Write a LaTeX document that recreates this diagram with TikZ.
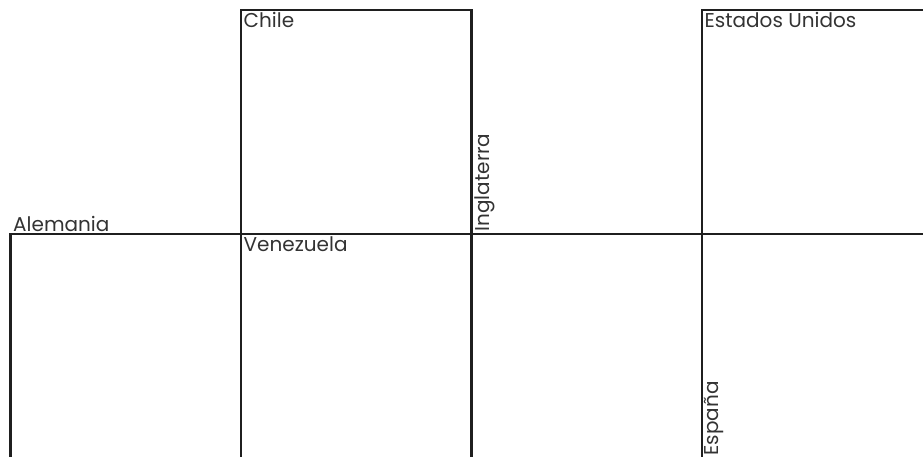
\documentclass[tikz,border=0pt]{standalone}
\usepackage{fontspec}
\setmainfont{Poppins}
\usetikzlibrary{positioning}

\begin{document}
\begin{tikzpicture}[x=1pt,y=-1pt,
    cell/.style={draw=black!88, line width=2.2pt, rectangle, inner sep=0pt, outer sep=0pt,
      minimum width=230.5pt, minimum height=224pt},
    tag/.style={text=black!80, font=\fontsize{20}{23}\selectfont, inner sep=2.5pt}]
  \useasboundingbox (0,0) rectangle (923,456);
  \clip (0,0) rectangle (923,456);
  \node[cell] (chile) at (356.25,122) {};
  \node[cell, below=0pt of chile] (venezuela) {};
  \node[cell, left=0pt of venezuela] (alemania) {};
  \node[cell, right=0pt of venezuela] (centro) {};
  \node[cell, right=0pt of centro] (espana) {};
  \node[cell, above=0pt of espana] (eeuu) {};
  \node[tag, anchor=north west] (chiletag) at (chile.north west) {Chile};
  \node[tag, anchor=north west] (eeuutag) at (eeuu.north west) {Estados Unidos};
  \node[tag, anchor=north west] (venezuelatag) at (venezuela.north west) {Venezuela};
  \node[tag, anchor=south west] (alemaniatag) at (alemania.north west) {Alemania};
  \node[tag, rotate=90, anchor=north west] (inglaterratag) at (chile.south east) {Inglaterra};
  \node[tag, rotate=90, anchor=north west] (espanatag) at (espana.south west) {España};
\end{tikzpicture}
\end{document}
